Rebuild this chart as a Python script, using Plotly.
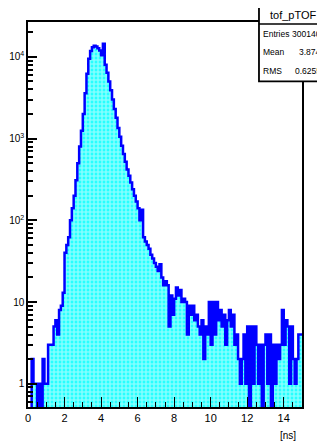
import plotly.graph_objects as go

# histogram tof_pTOF, 150 bins of 0.1 ns between 0 and 15 ns
bin_edges = [round(i * 0.1, 1) for i in range(151)]
counts = [
    0, 0, 2, 1, 1, 0, 1, 0, 2, 1,
    1, 3, 3, 3, 5, 6, 4, 8, 9, 13,
    40, 50, 62, 100, 140, 200, 310, 500, 800, 1250,
    2000, 3600, 6200, 9500, 11800, 13100, 13700, 13400, 12800, 12000,
    10500, 14500, 8000, 6400, 5000, 3900, 3000, 2300, 1800, 1350,
    1050, 820, 650, 520, 420, 350, 290, 240, 200, 170,
    140, 100, 135, 62, 55, 50, 45, 38, 34, 30,
    27, 24, 29, 20, 16, 18, 16, 5, 12, 7,
    11, 15, 12, 14, 10, 11, 10, 4, 9, 7,
    9, 6, 7, 5, 4, 6, 2, 5, 4, 10,
    3, 10, 4, 10, 6, 8, 5, 7, 3, 6,
    8, 5, 7, 3, 4, 2, 1, 2, 4, 1,
    5, 0, 5, 1, 5, 3, 1, 3, 0, 3,
    4, 1, 4, 0, 3, 1, 3, 2, 3, 8,
    3, 6, 5, 1, 5, 2, 1, 2, 4, 4,
]

y_ticks = [1, 10, 100, 1000, 10000]
y_tick_text = ["1", "10", "10<sup>2</sup>", "10<sup>3</sup>", "10<sup>4</sup>"]
x_ticks = [0, 2, 4, 6, 8, 10, 12, 14]

stats_name = "tof_pTOF"
stats_rows = [("Entries", "300140"), ("Mean", "3.874"), ("RMS", "0.6255")]

centers = [(bin_edges[i] + bin_edges[i + 1]) / 2 for i in range(len(counts))]
# empty bins drop to the bottom of the log axis
line_y = [c if c > 0 else 0.1 for c in counts] + [counts[-1] if counts[-1] > 0 else 0.1]

fig = go.Figure()

fig.add_trace(go.Bar(
    x=centers, y=counts, width=0.1,
    marker=dict(
        color="#00ffff",
        line=dict(width=0),
        pattern=dict(shape=".", fgcolor="white", bgcolor="#00ffff", size=4, solidity=0.75),
    ),
    showlegend=False,
))

fig.add_trace(go.Scatter(
    x=bin_edges, y=line_y, mode="lines",
    line=dict(color="#0000ff", width=2.5, shape="hv"),
    showlegend=False,
))

minor_y = [m * 10 ** k for k in range(-1, 5) for m in range(2, 10)]

fig.update_xaxes(
    range=[0, 15], tickmode="array", tickvals=x_ticks,
    ticks="inside", ticklen=10, tickwidth=1, tickcolor="black",
    minor=dict(dtick=0.5, ticks="inside", ticklen=5, tickcolor="black"),
    showgrid=False, zeroline=False, automargin=False,
    showline=True, mirror=True, linecolor="black", linewidth=1.5,
    tickfont=dict(family="Liberation Sans", size=11, color="black"),
)
fig.update_yaxes(
    type="log", range=[-0.285, 4.427],
    tickmode="array", tickvals=y_ticks, ticktext=y_tick_text,
    ticks="inside", ticklen=9, tickwidth=1.5, tickcolor="black",
    minor=dict(tickmode="array", tickvals=minor_y, ticks="inside", ticklen=5, tickcolor="black"),
    showgrid=False, zeroline=False, automargin=False,
    showline=True, mirror=True, linecolor="black", linewidth=1.5,
    tickfont=dict(family="Liberation Sans", size=10, color="black"),
)

# stats box (paper coordinates, plot area is 274 x 385 px)
fig.add_shape(type="rect", xref="paper", yref="paper",
              x0=0.843, x1=1.09, y0=0.846, y1=1.045,
              fillcolor="white", line=dict(color="black", width=1.8), layer="above")
fig.add_shape(type="line", xref="paper", yref="paper",
              x0=0.843, x1=1.09, y0=0.995, y1=0.995,
              line=dict(color="black", width=1.5), layer="above")
fig.add_annotation(text=stats_name, xref="paper", yref="paper",
                   x=0.968, y=1.019, xanchor="center", yanchor="middle",
                   showarrow=False, font=dict(family="Liberation Sans", size=11, color="black"))
for i, (lab, val) in enumerate(stats_rows):
    yy = 0.969 - i * 0.0475
    fig.add_annotation(text=lab, xref="paper", yref="paper", x=0.849, y=yy,
                       xanchor="left", yanchor="middle", showarrow=False,
                       font=dict(family="Liberation Sans", size=8.5, color="black"))
    fig.add_annotation(text=val, xref="paper", yref="paper", x=1.078, y=yy,
                       xanchor="right", yanchor="middle", showarrow=False,
                       font=dict(family="Liberation Sans", size=8.5, color="black"))

fig.add_annotation(text="[ns]", xref="paper", yref="paper", x=0.985, y=-0.073,
                   xanchor="right", yanchor="middle", showarrow=False,
                   font=dict(family="Liberation Sans", size=10, color="black"))

# the page body adds 8 px on the left/top, so the figure is shifted by that
fig.update_layout(
    width=317, height=433,
    margin=dict(l=20, r=23, t=14, b=34),
    plot_bgcolor="white", paper_bgcolor="white",
    bargap=0,
)

fig.write_html("out.html")
